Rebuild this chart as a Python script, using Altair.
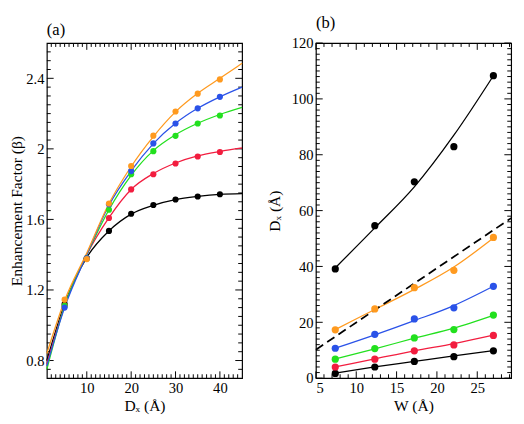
import altair as alt
import pandas as pd

# ---------------- Panel (a) data ----------------
DX_PTS = [5, 10, 15, 20, 25, 30, 35, 40]
N_LABELS = ["N=7", "N=11", "N=15", "N=19", "N=23"]
N_COLORS = ["#000000", "#f21d3f", "#22e01e", "#2a52e8", "#ff9a1f"]
BETA_N7 = [1.12, 1.38, 1.535, 1.632, 1.682, 1.713, 1.730, 1.743]
BETA_N11 = [1.11, 1.38, 1.608, 1.770, 1.856, 1.917, 1.957, 1.982]
BETA_N15 = [1.11, 1.38, 1.655, 1.856, 1.987, 2.074, 2.144, 2.189]
BETA_N19 = [1.10, 1.38, 1.686, 1.874, 2.031, 2.144, 2.230, 2.295]
BETA_N23 = [1.145, 1.375, 1.690, 1.903, 2.075, 2.212, 2.313, 2.394]

DX_FIT = [1, 5, 10, 15, 20, 25, 30, 35, 40, 45]
FIT_N7 = [0.80, 1.12, 1.385, 1.535, 1.630, 1.680, 1.712, 1.730, 1.742, 1.746]
FIT_N11 = [0.78, 1.11, 1.400, 1.610, 1.770, 1.860, 1.920, 1.960, 1.985, 2.005]
FIT_N15 = [0.75, 1.11, 1.400, 1.655, 1.850, 1.990, 2.080, 2.145, 2.195, 2.235]
FIT_N19 = [0.77, 1.10, 1.400, 1.680, 1.875, 2.030, 2.145, 2.230, 2.295, 2.350]
FIT_N23 = [0.84, 1.14, 1.410, 1.690, 1.900, 2.070, 2.210, 2.315, 2.400, 2.485]

# ---------------- Panel (b) data ----------------
W_PTS = [7.4, 12.3, 17.2, 22.1, 27.0]
P_LABELS = ["50%", "60%", "70%", "80%", "90%", "99%"]
P_COLORS = ["#000000", "#f21d3f", "#22e01e", "#2a52e8", "#ff9a1f", "#8b34e0"]
D_50 = [1.7, 4.0, 6.0, 7.7, 9.8]
D_60 = [4.0, 6.8, 9.8, 11.9, 15.3]
D_70 = [6.8, 10.6, 14.4, 17.4, 22.6]
D_80 = [10.7, 15.7, 21.2, 25.2, 32.9]
D_90 = [17.3, 24.8, 32.4, 38.6, 50.4]
D_99 = [39.1, 54.6, 70.3, 82.9, 108.3]

FIT_50 = [1.8, 4.0, 6.0, 8.0, 9.9]
FIT_60 = [4.0, 6.9, 9.8, 12.4, 15.4]
FIT_70 = [6.9, 10.5, 14.3, 17.9, 22.5]
FIT_80 = [10.7, 15.5, 20.6, 26.0, 32.9]
FIT_90 = [17.4, 24.6, 31.8, 39.8, 50.2]
FIT_99 = [39.5, 53.8, 68.5, 87.0, 108.3]

DASH_W = [5.0, 29.2]
DASH_D = [10.2, 57.3]

# tick values
XA_MAJ = [10, 20, 30, 40]
XA_MIN = [v for v in range(2, 45) if v % 10 != 0]
YA_MAJ = [0.8, 1.2, 1.6, 2.0, 2.4]
YA_MIN = [round(0.75 + 0.05 * i, 2) for i in range(37)]
YA_MIN = [v for v in YA_MIN if all(abs(v - m) > 1e-6 for m in YA_MAJ)]
XB_MAJ = [5, 10, 15, 20, 25]
XB_MIN = [v for v in range(6, 30) if v % 5 != 0]
YB_MAJ = [0, 20, 40, 60, 80, 100, 120]
YB_MIN = [v for v in range(2, 120, 2) if v % 20 != 0]

# ---------------- styling ----------------
FONT = "Liberation Serif"
PW, PH = 201, 345
MAJ_LEN, MIN_LEN = 7, 4


def long_df(xs, labels, series):
    rows = []
    for lab, ys in zip(labels, series):
        for x, y in zip(xs, ys):
            rows.append({"x": x, "y": y, "s": lab})
    return pd.DataFrame(rows)


def axis(title, values, fmt, lp, tp):
    return alt.Axis(title=title, values=values, format=fmt, domain=False, ticks=False,
                    grid=False, labelFont=FONT, labelFontSize=15, labelColor="black",
                    labelPadding=lp, titleFont=FONT, titleFontSize=16,
                    titleFontWeight="normal", titleColor="black", titlePadding=tp)


def tick_layers(xmaj, xmin, ymaj, ymin, xsc, ysc, xax, yax):
    layers = []
    for vals, L in ((xmaj, MAJ_LEN), (xmin, MIN_LEN)):
        df = pd.DataFrame({"v": vals})
        base = alt.Chart(df).mark_rule(color="black", strokeWidth=1)
        layers.append(base.encode(x=alt.X("v:Q", scale=xsc, axis=xax),
                                  y=alt.value(PH), y2=alt.value(PH - L)))
        layers.append(base.encode(x=alt.X("v:Q", scale=xsc, axis=xax),
                                  y=alt.value(0), y2=alt.value(L)))
    for vals, L in ((ymaj, MAJ_LEN), (ymin, MIN_LEN)):
        df = pd.DataFrame({"w": vals})
        base = alt.Chart(df).mark_rule(color="black", strokeWidth=1)
        layers.append(base.encode(y=alt.Y("w:Q", scale=ysc, axis=yax),
                                  x=alt.value(0), x2=alt.value(L)))
        layers.append(base.encode(y=alt.Y("w:Q", scale=ysc, axis=yax),
                                  x=alt.value(PW - L), x2=alt.value(PW)))
    return layers


def make_legend(lx, ly):
    return alt.Legend(title=None, orient="none", legendX=lx, legendY=ly,
                      strokeColor="#222222", padding=5, symbolType="circle",
                      symbolSize=40, labelFont=FONT, labelFontSize=15,
                      labelColor="black", labelOffset=15)


def title(txt):
    return alt.TitleParams(txt, anchor="start", frame="group", font=FONT,
                           fontSize=17, fontWeight="normal", offset=4)


# ---------------- panel (a) ----------------
xs_a = alt.Scale(domain=[1, 45], nice=False, zero=False)
ys_a = alt.Scale(domain=[0.7, 2.6], nice=False, zero=False)
xax_a = axis("Dₓ (Å)", XA_MAJ, "d", 3, 2)
yax_a = axis("Enhancement Factor (β)", YA_MAJ, ".2~f", 3, 1)
col_a = alt.Scale(domain=N_LABELS, range=N_COLORS)
pts_a = long_df(DX_PTS, N_LABELS, [BETA_N7, BETA_N11, BETA_N15, BETA_N19, BETA_N23])
fit_a = long_df(DX_FIT, N_LABELS, [FIT_N7, FIT_N11, FIT_N15, FIT_N19, FIT_N23])

lines_a = alt.Chart(fit_a).mark_line(strokeWidth=1.3, interpolate="monotone").encode(
    x=alt.X("x:Q", scale=xs_a, axis=xax_a),
    y=alt.Y("y:Q", scale=ys_a, axis=yax_a),
    color=alt.Color("s:N", scale=col_a, legend=None),
    detail="s:N",
)
points_a = alt.Chart(pts_a).mark_circle(size=40, opacity=1).encode(
    x=alt.X("x:Q", scale=xs_a, axis=xax_a),
    y=alt.Y("y:Q", scale=ys_a, axis=yax_a),
    color=alt.Color("s:N", scale=col_a, legend=make_legend(14, 14)),
)

panel_a = alt.layer(
    *tick_layers(XA_MAJ, XA_MIN, YA_MAJ, YA_MIN, xs_a, ys_a, xax_a, yax_a),
    lines_a, points_a,
).properties(width=PW, height=PH, title=title("(a)"))

# ---------------- panel (b) ----------------
xs_b = alt.Scale(domain=[5, 29.2], nice=False, zero=False)
ys_b = alt.Scale(domain=[0, 120], nice=False)
xax_b = axis("W (Å)", XB_MAJ, "d", 3, 2)
yax_b = axis("Dₓ (Å)", YB_MAJ, "d", 3, 9)
col_b = alt.Scale(domain=P_LABELS, range=P_COLORS)
pts_b = long_df(W_PTS, P_LABELS, [D_50, D_60, D_70, D_80, D_90, D_99])
fit_b = long_df(W_PTS, P_LABELS, [FIT_50, FIT_60, FIT_70, FIT_80, FIT_90, FIT_99])
dash_b = pd.DataFrame({"x": DASH_W, "y": DASH_D})

lines_b = alt.Chart(fit_b).mark_line(strokeWidth=1.3, interpolate="monotone").encode(
    x=alt.X("x:Q", scale=xs_b, axis=xax_b),
    y=alt.Y("y:Q", scale=ys_b, axis=yax_b),
    color=alt.Color("s:N", scale=col_b, legend=None),
    detail="s:N",
)
dash_line = alt.Chart(dash_b).mark_line(color="black", strokeWidth=1.8,
                                        strokeDash=[9, 5]).encode(
    x=alt.X("x:Q", scale=xs_b, axis=xax_b),
    y=alt.Y("y:Q", scale=ys_b, axis=yax_b),
)
points_b = alt.Chart(pts_b).mark_circle(size=55, opacity=1).encode(
    x=alt.X("x:Q", scale=xs_b, axis=xax_b),
    y=alt.Y("y:Q", scale=ys_b, axis=yax_b),
    color=alt.Color("s:N", scale=col_b, legend=make_legend(20, 13)),
)

panel_b = alt.layer(
    *tick_layers(XB_MAJ, XB_MIN, YB_MAJ, YB_MIN, xs_b, ys_b, xax_b, yax_b),
    lines_b, dash_line, points_b,
).properties(width=PW, height=PH, title=title("(b)"))

chart = alt.vconcat(alt.hconcat(panel_a, panel_b)).resolve_scale(
    color="independent"
).configure_view(stroke="black", strokeWidth=1.2).properties(padding=0)

chart.save("out.html", embed_options={"renderer": "svg", "actions": False})
